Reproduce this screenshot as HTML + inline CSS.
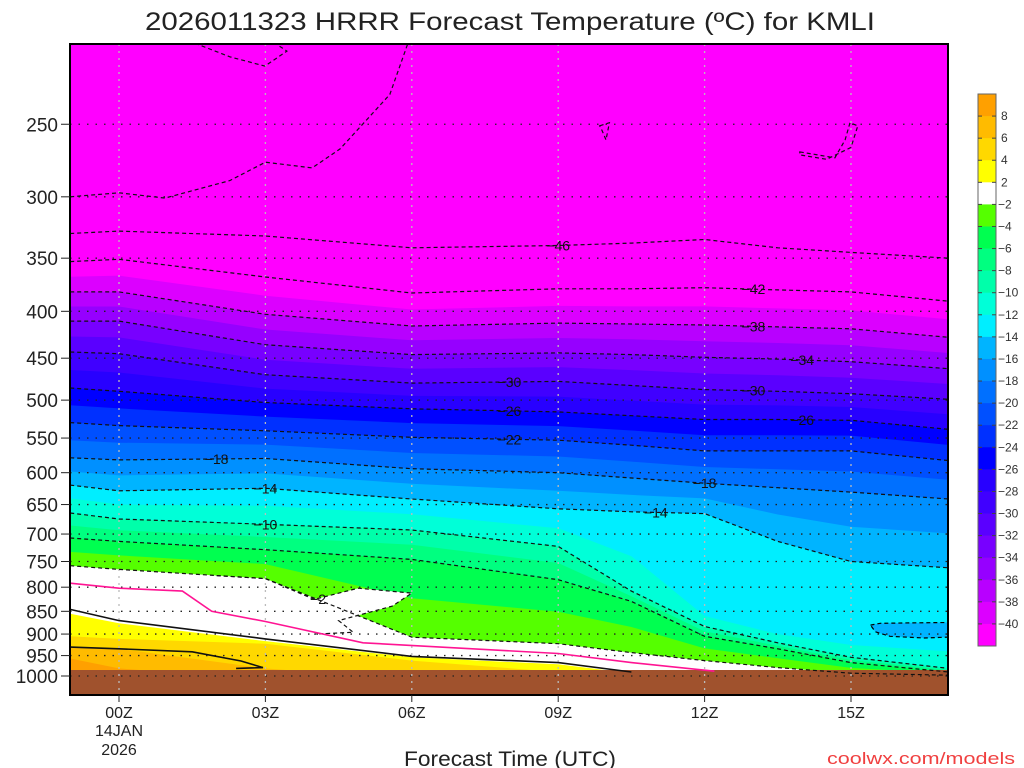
<!DOCTYPE html>
<html><head><meta charset="utf-8">
<style>
html,body{margin:0;padding:0;background:#fff;}
svg{display:block;font-family:"Liberation Sans Narrow","Liberation Sans",sans-serif;}
</style></head>
<body>
<svg id="chart" width="1024" height="768" viewBox="0 0 1024 768" xmlns="http://www.w3.org/2000/svg">
<rect width="1024" height="768" fill="#fff"/>
<text x="510" y="30" text-anchor="middle" font-size="25" fill="#222" textLength="730" lengthAdjust="spacingAndGlyphs">2026011323 HRRR Forecast Temperature (ºC) for KMLI</text>
<defs><clipPath id="plotclip"><rect x="70" y="44" width="878" height="651"/></clipPath></defs>
<g id="plot" clip-path="url(#plotclip)"></g>
<rect x="70" y="44" width="878" height="651" fill="none" stroke="#000" stroke-width="2"/>
<g id="axes"></g>
<text x="510" y="766" text-anchor="middle" font-size="21" fill="#222" textLength="212" lengthAdjust="spacingAndGlyphs">Forecast Time (UTC)</text>
<text x="1015" y="764" text-anchor="end" font-size="17" fill="#f04040" textLength="188" lengthAdjust="spacingAndGlyphs">coolwx.com/models</text>
<g id="colorbar"></g>
</svg>
<script>
// ---- data ----
const times = [-1, 0, 3, 6, 9, 10.5, 12, 13.5, 15, 17];
const contourLevels = [-46, -42, -38, -34, -30, -26, -22, -18, -14, -10, -6, -2];
const cM46 = [329,327,331,341,339,337,334,341,345,350];
const cM42 = [353,351,367,382,378,378,377,379,381,390];
const cM38 = [381,381,403,415,412,413,414,416,418,427];
const cM34 = [410,410,435,446,444,446,449,451,454,462];
const cM30 = [443,445,469,479,477,482,487,489,492,499];
const cM26 = [485,489,503,511,515,520,525,525,526,538];
const cM22 = [529,533,540,549,553,560,568,568,568,582];
const cM18 = [578,581,579,594,600,608,616,623,630,641];
const cM14 = [619,628,624,641,657,662,665,713,750,762];
const cM10 = [664,674,683,693,722,808,883,920,954,981];
const cM6  = [707,713,728,746,785,829,905,934,967,990];
const cM2  = [758,765,783,907,922,943,962,979,993,998];
const b12  = [640,650,652,666,690,740,860,900,925,940];
const c0   = [846,870,911,952,967,990,1010,1010,1010,1010];
const b2   = [855,876,916,954,971,993,1010,1010,1010,1010];
const b4   = [905,911,922,962,990,1010,1010,1010,1010,1010];
const b6   = [930,934,981,1010,1010,1010,1010,1010,1010,1010];
const b8   = [957,981,1010,1010,1010,1010,1010,1010,1010,1010];
const c4Times = [-1,0,1.5,2.5,2.95,2.4];
const c4P     = [930,934,941,963,979,981];
const wbTimes = [-1,0,1.3,1.9,3,5,9,10.5,12.2];
const wbP     = [792,802,808,850,872,920,945,967,988];
const pocketTimes = [2,3,4,4.9,6,5.6,4.5,4.8,4,2];
const pocketP     = [777,783,825,802,812,839,870,896,900,900];
const bubbleTimes = [15.4,15.6,16.2,17.2,17.2,16.5,15.8,15.5];
const bubbleP     = [880,876,875,874,906,909,905,895];
const m50Times = [-1,0,0.94,2.27,3,3.96,4.53,5.55,5.92];
const m50P     = [300,297,301,288,275,279,266,232,204];
const loopATimes = [1.56,2.27,2.99,3.44,3.2];
const loopAP     = [204,211,216,208,204];
const loopBTimes = [9.85,10.05,9.98,9.9,9.85];
const loopBP     = [251,249,260,254,251];
const loopCTimes = [13.95,14.67,14.88,14.98,15.14,15.0,14.5,13.95];
const loopCP     = [268,272,260,249,251,265,273,270];
const xTickHours = [0,3,6,9,12,15];
const xTickLabels = ["00Z","03Z","06Z","09Z","12Z","15Z"];
const yTicks = [250,300,350,400,450,500,550,600,650,700,750,800,850,900,950,1000];
const cbLabels = ["8","6","4","2","−2","−4","−6","−8","−10","−12","−14","−16","−18","−20","−22","−24","−26","−28","−30","−32","−34","−36","−38","−40"];
const bandColors = ["#ffa000","#ffbb00","#ffd800","#ffff00","#ffffff","#55ff00","#00ff50","#00ff80","#00ffaa","#00ffd8","#00eeff","#00b4ff","#0090ff","#0070ff","#0050ff","#0030ff","#0000ff","#2800ff","#4000ff","#5a00ff","#7800ff","#9600ff","#b800ff","#dc00ff","#ff00ff"];
const labelsData = [["−46",-46,9],["−42",-42,13],["−38",-38,13],["−34",-34,14],["−30",-30,8],["−30",-30,13],["−26",-26,8],["−26",-26,14],["−22",-22,8],["−18",-18,2],["−18",-18,12],["−14",-14,3],["−14",-14,11],["−10",-10,3]];

// ---- scales ----
const NS="http://www.w3.org/2000/svg";
function xs(t){return 119+t*48.8;}
function ys(p){return 676+398*Math.log(p/1000);}
function mk(tag,attrs,parent){const e=document.createElementNS(NS,tag);for(const k in attrs)e.setAttribute(k,attrs[k]);parent.appendChild(e);return e;}
function pathD(ts,ps,close){let d="";for(let i=0;i<ts.length;i++)d+=(i?"L":"M")+xs(ts[i]).toFixed(1)+","+ys(ps[i]).toFixed(1);return d+(close?"Z":"");}
function interp(arr,t){for(let i=0;i<times.length-1;i++){if(t>=times[i]&&t<=times[i+1]){const f=(t-times[i])/(times[i+1]-times[i]);return arr[i]*Math.pow(arr[i+1]/arr[i],f);}}return arr[arr.length-1];}

const plot=document.getElementById('plot');
const contours={"-46":cM46,"-42":cM42,"-38":cM38,"-34":cM34,"-30":cM30,"-26":cM26,"-22":cM22,"-18":cM18,"-14":cM14,"-10":cM10,"-6":cM6,"-2":cM2};
function boundary(L){
  if(L===-12)return b12;
  if(contours[String(L)])return contours[String(L)];
  const a=contours[String(L-2)],b=contours[String(L+2)];
  return a.map((v,i)=>Math.sqrt(v*b[i]));
}
const bg=mk('rect',{x:70,y:44,width:878,height:651,fill:bandColors[24]},plot);


const fillLevels=[];
for(let L=-40;L<=-2;L+=2)fillLevels.push(L);
const allBounds=fillLevels.map(L=>[L,boundary(L)]).concat([[2,b2],[4,b4],[6,b6],[8,b8]]);
allBounds.forEach(([L,arr],k)=>{
  const colorIdx=23-k;
  const d=pathD(times,arr,false)+"L"+xs(17)+","+ys(1100)+"L"+xs(-1)+","+ys(1100)+"Z";
  const el=mk('path',{d:d,fill:bandColors[colorIdx]},plot);
  
  
});
const pk=mk('path',{d:pathD(pocketTimes,pocketP,true),fill:"#ffffff"},plot);


const bb=mk('path',{d:pathD(bubbleTimes,bubbleP,true),fill:"#00b4ff",stroke:"#000","stroke-dasharray":"4,3","stroke-width":1.2},plot);


const gr=mk('rect',{x:70,y:670,width:878,height:26,fill:"#a0522d"},plot);


yTicks.forEach(p=>{
  const g=mk('line',{x1:70,x2:948,y1:ys(p),y2:ys(p),stroke:"#222","stroke-width":1.3,"stroke-dasharray":"1.5,7"},plot);
  
  
});
xTickHours.forEach(h=>{
  const g=mk('line',{x1:xs(h),x2:xs(h),y1:44,y2:695,stroke:"#bbb","stroke-width":1.3,"stroke-dasharray":"2,5"},plot);
  
  
});
contourLevels.forEach(L=>{
  const c=mk('path',{d:pathD(times,contours[String(L)],false),fill:"none",stroke:"#111","stroke-width":1.2,"stroke-dasharray":"4,3"},plot);
  
  
});
[[m50Times,m50P,false,'isotherm-minus50'],[loopATimes,loopAP,true,'isotherm-loop-a'],[loopBTimes,loopBP,true,'isotherm-loop-b'],[loopCTimes,loopCP,true,'isotherm-loop-c'],[pocketTimes.slice(0,9),pocketP.slice(0,9),false,'pocket-contour']].forEach(([t,p,cl,n])=>{
  const c=mk('path',{d:pathD(t,p,cl),fill:"none",stroke:"#111","stroke-width":1.2,"stroke-dasharray":"4,3"},plot);
  
  
});
const z0=mk('path',{d:pathD(times.slice(0,6),c0.slice(0,6),false),fill:"none",stroke:"#111","stroke-width":1.6},plot);


const z4=mk('path',{d:pathD(c4Times,c4P,false),fill:"none",stroke:"#111","stroke-width":1.6},plot);


const wb=mk('path',{d:pathD(wbTimes,wbP,false),fill:"none",stroke:"#ff1493","stroke-width":1.6},plot);


labelsData.forEach(([txt,L,t])=>{
  const p=interp(contours[String(L)],t);
  const tx=mk('text',{x:xs(t),y:ys(p)+5,"text-anchor":"middle","font-size":14,fill:"#111"},plot);
  tx.textContent=txt;
  
  
});
const l2=mk('text',{x:318,y:604,"text-anchor":"middle","font-size":14,fill:"#111"},plot);
l2.textContent="−2";


const axes=document.getElementById('axes');
yTicks.forEach(p=>{
  const t=mk('text',{x:58,y:ys(p)+7,"text-anchor":"end","font-size":19,fill:"#222"},axes);
  t.textContent=String(p);
  
  
  const tk=mk('line',{x1:61,x2:70,y1:ys(p),y2:ys(p),stroke:"#222","stroke-width":1},axes);
  
  
});
xTickHours.forEach((h,i)=>{
  const tk=mk('line',{x1:xs(h),x2:xs(h),y1:695,y2:702,stroke:"#222","stroke-width":1},axes);
  
  
  const t=mk('text',{x:xs(h),y:718,"text-anchor":"middle","font-size":16,fill:"#222"},axes);
  t.textContent=xTickLabels[i];
  
  
});
[["14JAN",736],["2026",755]].forEach(([s,y])=>{
  const t=mk('text',{x:xs(0),y:y,"text-anchor":"middle","font-size":16,fill:"#222"},axes);
  t.textContent=s;
  
  
});
const cb=document.getElementById('colorbar');
const cbTop=94,cbH=552,bh=cbH/25;
bandColors.forEach((c,i)=>{
  const r=mk('rect',{x:978,y:cbTop+i*bh,width:18,height:bh+0.5,fill:c},cb);
  
  
});
mk('rect',{x:978,y:cbTop,width:18,height:cbH,fill:"none",stroke:"#666","stroke-width":1},cb);
cbLabels.forEach((s,i)=>{
  const y=cbTop+(i+1)*bh;
  mk('line',{x1:978,x2:982,y1:y,y2:y,stroke:"#444"},cb);
  mk('line',{x1:992,x2:996,y1:y,y2:y,stroke:"#444"},cb);
  const t=mk('text',{x:s.startsWith("−")?998:1001,y:y+4,"font-size":12,fill:"#333"},cb);
  t.textContent=s;
  
  
});
</script>
</body></html>
